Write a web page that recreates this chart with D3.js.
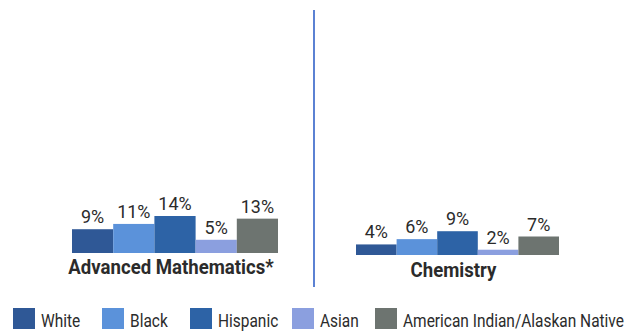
<!DOCTYPE html>
<html><head><meta charset="utf-8">
<script src="https://cdn.jsdelivr.net/npm/d3@7"></script>
<style>
body{margin:0;background:#fff;}
svg{display:block;}
text{font-family:Roboto,"Liberation Sans",sans-serif;fill:#2b2b2b;}
</style></head><body>
<svg id="c" width="626" height="332"></svg>
<script>
const groups = ["Advanced Mathematics*", "Chemistry"];
const races = ["White", "Black", "Hispanic", "Asian", "American Indian/Alaskan Native"];
const mathValues = [9, 11, 14, 5, 13];
const chemValues = [4, 6, 9, 2, 7];
const colors = ["#2f5896", "#5b92da", "#2d63a6", "#8b9fdf", "#6d7470"];

const svg = d3.select("#c");
const y = d3.scaleLinear().domain([0, 14]).range([0, 37]);
const color = d3.scaleOrdinal().domain(races).range(colors);

// condensed typeface look: squeeze text horizontally
function condense(sel, sx) {
  sel.each(function() {
    const t = d3.select(this);
    const x = +t.attr("x"), yy = +t.attr("y");
    t.attr("x", 0).attr("y", 0).attr("transform", `translate(${x},${yy}) scale(${sx},1)`);
  });
}

const panels = [
  {name: groups[0], values: mathValues, x0: 72, x1: 278, base: 253, lblY: 274},
  {name: groups[1], values: chemValues, x0: 356, x1: 559, base: 255, lblY: 277}
];

panels.forEach(p => {
  const x = d3.scaleBand().domain(races).range([p.x0, p.x1]).padding(0);
  const g = svg.append("g");
  const data = races.map((r, i) => ({race: r, v: p.values[i]}));
  g.selectAll("rect").data(data).join("rect")
    .attr("x", d => x(d.race)).attr("width", x.bandwidth())
    .attr("y", d => p.base - y(d.v)).attr("height", d => y(d.v))
    .attr("fill", d => color(d.race));
  g.selectAll("text.v").data(data).join("text").attr("class", "v")
    .attr("x", d => x(d.race) + x.bandwidth() / 2)
    .attr("y", d => p.base - y(d.v) - 6)
    .attr("text-anchor", "middle").attr("font-size", 18.5)
    .text(d => d.v + "%")
    .call(condense, 0.97);
  g.append("text")
    .attr("x", (p.x0 + p.x1) / 2 - 4).attr("y", p.lblY)
    .attr("text-anchor", "middle").attr("font-size", 20).attr("font-weight", "bold")
    .attr("fill", "#333")
    .text(p.name)
    .call(condense, 0.93);
});

svg.append("line").attr("x1", 314).attr("x2", 314).attr("y1", 10).attr("y2", 287)
  .attr("stroke", "#4a74cf").attr("stroke-width", 1.8);

const legX = [13, 102, 190, 292, 375];
const lg = svg.append("g");
races.forEach((r, i) => {
  lg.append("rect").attr("x", legX[i]).attr("y", 308).attr("width", 22).attr("height", 21)
    .attr("fill", color(r));
  lg.append("text").attr("x", legX[i] + 28).attr("y", 327).attr("font-size", 18).text(r)
    .call(condense, 0.86);
});
</script></body></html>
